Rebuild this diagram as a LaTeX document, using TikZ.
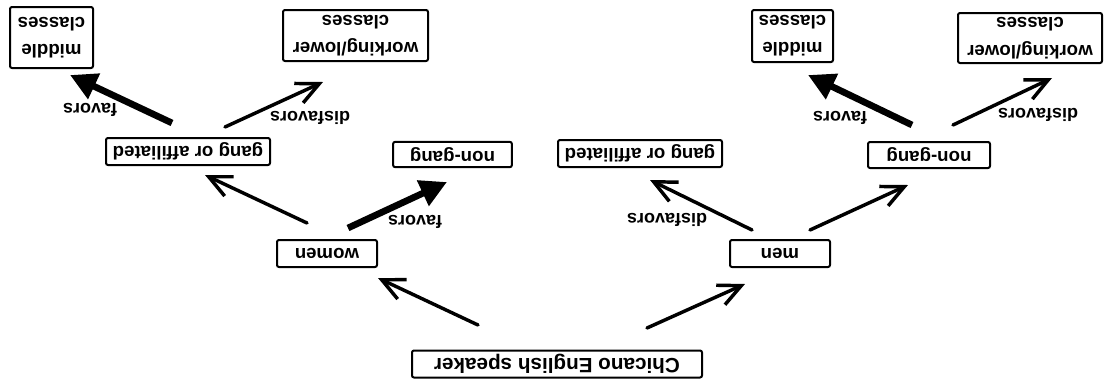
\documentclass[tikz,border=0pt]{standalone}
\usepackage{fontspec}
\setmainfont{Liberation Sans}
\usetikzlibrary{arrows.meta}
\begin{document}
\begin{tikzpicture}[x=0.75pt,y=-0.75pt,
  box/.style={draw, line width=1.5pt, rounded corners=1.5pt, rotate=180, inner sep=0pt,
    align=center, font=\fontsize{14}{20.5}\selectfont\bfseries},
  lbl/.style={rotate=180, inner sep=0pt, font=\fontsize{13.5}{16}\selectfont\bfseries},
  thinarr/.style={line width=2.6pt, line cap=round,
    -{Straight Barb[length=17pt,width=16pt,line width=2.6pt]}},
  thickarr/.style={line width=5pt, -{Triangle[length=20pt,width=20pt]}}]
\useasboundingbox (0,0) rectangle (1107,387);
% nodes
\node[box, minimum width=217.5pt, minimum height=20.25pt, font=\fontsize{15.5}{18}\selectfont\bfseries] (chic) at (557,364) {Chicano English speaker};
\node[box, minimum width=75pt, minimum height=20.25pt] (women) at (327,253.5) {women};
\node[box, minimum width=75pt, minimum height=20.25pt] (men) at (780,253.5) {men};
\node[box, minimum width=123pt, minimum height=20.25pt] (gangL) at (188,151.5) {gang or affiliated};
\node[box, minimum width=89pt, minimum height=19pt] (ngM) at (452.5,154.5) {non-gang};
\node[box, minimum width=123pt, minimum height=20.25pt] (gangM) at (640,153.5) {gang or affiliated};
\node[box, minimum width=91.5pt, minimum height=19.5pt] (ngR) at (929,155) {non-gang};
\node[box, minimum width=62.25pt, minimum height=45.75pt] (midL) at (51.5,37.5) {middle\\classes};
\node[box, minimum width=108.75pt, minimum height=38.25pt] (workL) at (355.5,35.5) {working/lower\\classes};
\node[box, minimum width=60.75pt, minimum height=39pt] (midR) at (792.5,36) {middle\\classes};
\node[box, minimum width=108pt, minimum height=37.5pt] (workR) at (1030,38) {working/lower\\classes};
% connectors
\draw[thinarr] ([shift={(-79,-39)}]chic.center) -- ([shift={(51,24.5)}]women.center);
\draw[thinarr] ([shift={(90,-36)}]chic.center) -- ([shift={(-35,30.5)}]men.center);
\draw[thinarr] ([shift={(-20,-30.5)}]women.center) -- ([shift={(17,23.5)}]gangL.center);
\draw[thickarr] ([shift={(21,-25.5)}]women.center) -- ([shift={(-5.5,27.5)}]ngM.center);
\draw[thinarr] ([shift={(-28,-23.5)}]men.center) -- ([shift={(10,26.5)}]gangM.center);
\draw[thinarr] ([shift={(30,-23.5)}]men.center) -- ([shift={(-21,30)}]ngR.center);
\draw[thickarr] ([shift={(-16,-28.5)}]gangL.center) -- ([shift={(18.5,37.5)}]midL.center);
\draw[thinarr] ([shift={(37,-24.5)}]gangL.center) -- ([shift={(-32.5,46.5)}]workL.center);
\draw[thickarr] ([shift={(-17,-30)}]ngR.center) -- ([shift={(15.5,39)}]midR.center);
\draw[thinarr] ([shift={(24,-30)}]ngR.center) -- ([shift={(22,40)}]workR.center);
% labels
\node[lbl] (l1) at (415,222) {favors};
\node[lbl] (l2) at (667,220) {disfavors};
\node[lbl] (l3) at (90,110) {favors};
\node[lbl] (l4) at (310,118) {disfavors};
\node[lbl] (l5) at (840,118) {favors};
\node[lbl] (l6) at (1038,115) {disfavors};
\end{tikzpicture}
\end{document}
